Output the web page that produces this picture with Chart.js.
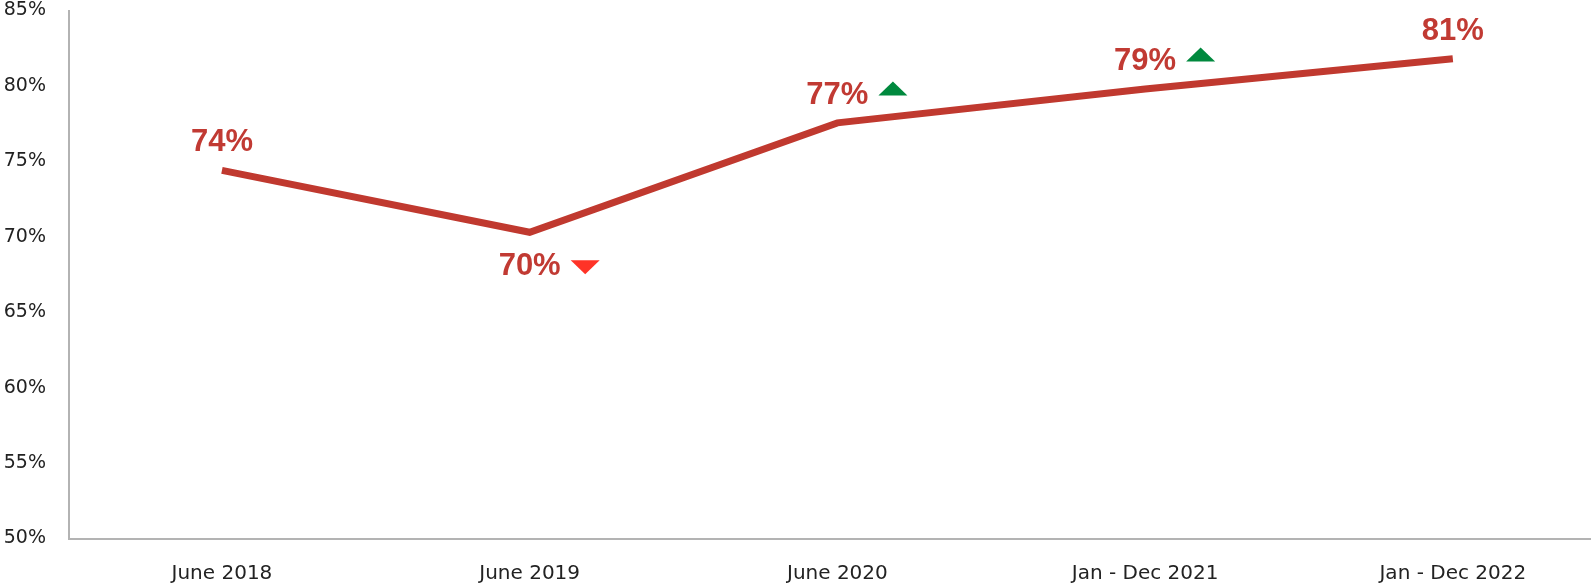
<!DOCTYPE html>
<html>
<head>
<meta charset="utf-8">
<title>Trend</title>
<script src="https://cdn.jsdelivr.net/npm/chart.js@4/dist/chart.umd.min.js"></script>
<style>
  html, body { margin: 0; padding: 0; background: #fff; overflow: hidden; }
  canvas { display: block; }
</style>
</head>
<body>
<canvas id="trendChart" width="1591" height="584"></canvas>
<script>
// periods on the x axis and the score for each one
const periods = ['June 2018', 'June 2019', 'June 2020', 'Jan - Dec 2021', 'Jan - Dec 2022'];
const scores = [74.4, 70.3, 77.55, 79.8, 81.8];
// arrow shown next to a label (null = no arrow)
const trends = [null, 'down', 'up', 'up', null];
const yTicks = [50, 55, 60, 65, 70, 75, 80, 85];

const lineColor = '#c0392f';
const labelColor = '#c13a33';
const upColor = '#00893e';
const downColor = '#ff3327';
const axisColor = '#b3b3b3';
const tickColor = '#222222';
const tickFont = 'DejaVu Sans';

// value labels above / below each point, with the trend arrows
const valueLabels = {
    id: 'valueLabels',
    afterDatasetsDraw(chart) {
        const ctx = chart.ctx;
        const meta = chart.getDatasetMeta(0);
        ctx.save();
        ctx.font = 'bold 31px "Liberation Sans", Arial, sans-serif';
        ctx.textAlign = 'center';
        ctx.textBaseline = 'alphabetic';
        meta.data.forEach((pt, i) => {
            const v = scores[i];
            const prev = scores[i - 1];
            const next = scores[i + 1];
            // a dip gets its label underneath the line
            const below = prev !== undefined && next !== undefined && v < prev && v < next;
            const baseY = below ? pt.y + 43 : pt.y - 19;
            const text = Math.floor(v) + '%';
            ctx.fillStyle = labelColor;
            ctx.fillText(text, pt.x, baseY);

            const w = ctx.measureText(text).width;
            const left = pt.x + w / 2 + 10;
            const triW = 29, triH = 14;
            if (trends[i] === 'up') {
                const bottom = baseY - 8.5;
                ctx.fillStyle = upColor;
                ctx.beginPath();
                ctx.moveTo(left, bottom);
                ctx.lineTo(left + triW, bottom);
                ctx.lineTo(left + triW / 2, bottom - triH);
                ctx.closePath();
                ctx.fill();
            } else if (trends[i] === 'down') {
                const tip = baseY - 1;
                ctx.fillStyle = downColor;
                ctx.beginPath();
                ctx.moveTo(left, tip - triH);
                ctx.lineTo(left + triW, tip - triH);
                ctx.lineTo(left + triW / 2, tip);
                ctx.closePath();
                ctx.fill();
            }
        });
        ctx.restore();
    }
};

const ctx = document.getElementById('trendChart').getContext('2d');
const trendChart = new Chart(ctx, {
    type: 'line',
    data: {
        datasets: [{
            data: scores.map((v, i) => ({ x: i, y: v })),
            borderColor: lineColor,
            borderWidth: 7,
            borderCapStyle: 'butt',
            pointRadius: 0,
            tension: 0,
            fill: false
        }]
    },
    options: {
        responsive: false,
        animation: false,
        layout: { padding: { top: 10.5, right: 0, bottom: 0, left: 0 } },
        plugins: {
            legend: { display: false },
            tooltip: { enabled: false }
        },
        scales: {
            x: {
                type: 'linear',
                min: -0.497,
                max: 4.449,
                afterBuildTicks: (scale) => {
                    scale.ticks = periods.map((p, i) => ({ value: i }));
                },
                afterFit: (scale) => {
                    scale.height = 45.5;
                    scale.paddingLeft = 0;
                    scale.paddingRight = 0;
                },
                grid: { display: false, drawTicks: false },
                border: { display: true, color: axisColor, width: 2 },
                ticks: {
                    autoSkip: false,
                    maxRotation: 0,
                    padding: 25,
                    color: tickColor,
                    font: { family: tickFont, size: 20, lineHeight: 1 },
                    callback: (value) => periods[value]
                }
            },
            y: {
                min: yTicks[0],
                max: yTicks[yTicks.length - 1],
                afterBuildTicks: (scale) => {
                    scale.ticks = yTicks.map(v => ({ value: v }));
                },
                afterFit: (scale) => {
                    scale.width = 69;
                    scale.paddingTop = 9.5;
                    scale.paddingBottom = 9.5;
                },
                grid: { display: false, drawTicks: false },
                border: { display: true, color: axisColor, width: 2 },
                ticks: {
                    padding: 23,
                    color: tickColor,
                    font: { family: tickFont, size: 19, lineHeight: 1 },
                    callback: (value) => value + '%'
                }
            }
        }
    },
    plugins: [valueLabels]
});
</script>
</body>
</html>
